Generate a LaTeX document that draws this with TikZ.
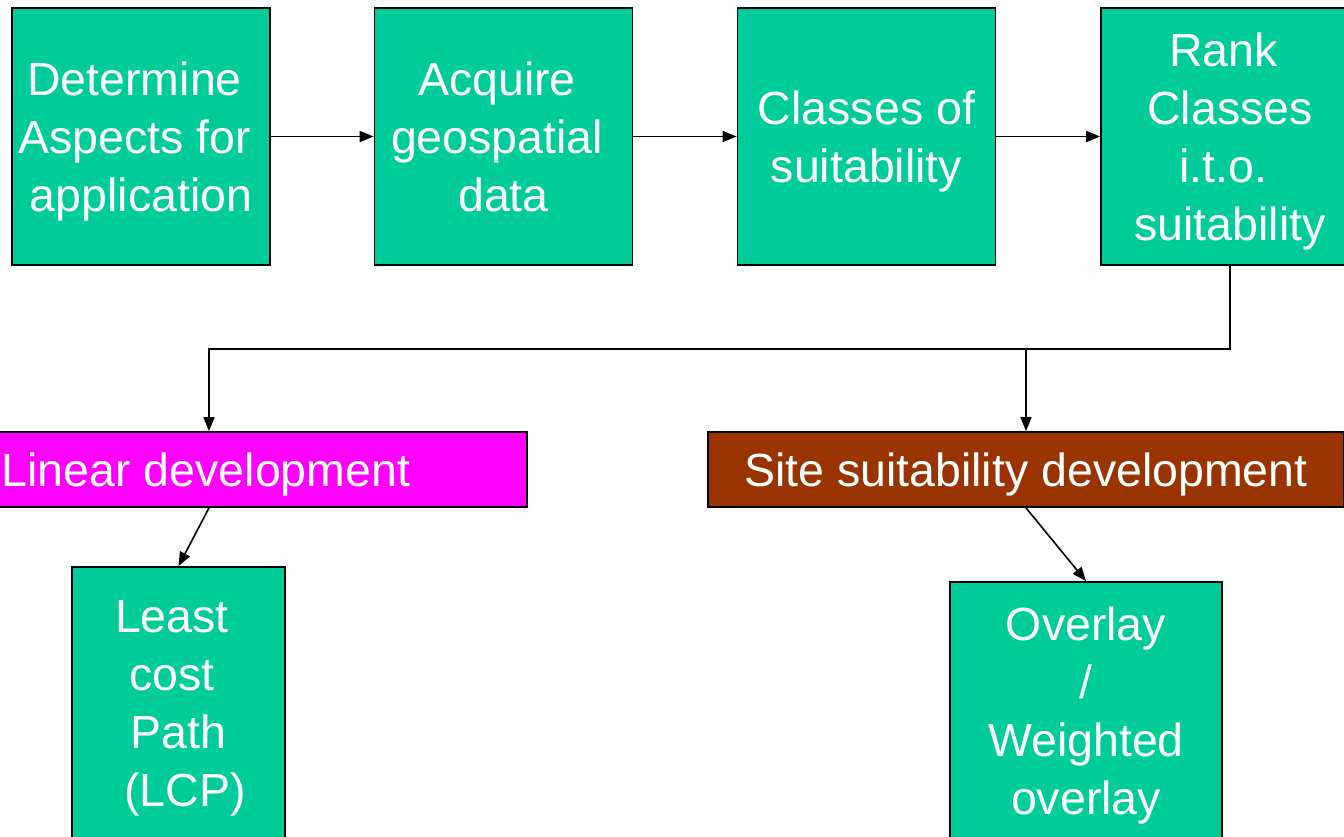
\documentclass[tikz,border=0pt]{standalone}
\usepackage{fontspec}
\setmainfont{Liberation Sans}
\usetikzlibrary{arrows.meta}
\definecolor{boxgreen}{RGB}{0,204,153}
\definecolor{boxmag}{RGB}{255,0,255}
\definecolor{boxbrown}{RGB}{153,51,0}
\newcommand\tsp{\hbox to 13pt{}}
\begin{document}
\begin{tikzpicture}[x=1pt,y=-1pt,
  box/.style={draw=black, line width=1.8pt, fill=boxgreen, text=white,
    font=\fontsize{46.5}{58}\selectfont, align=center, inner sep=0pt, text depth=0pt},
  arr/.style={line width=1.6pt, -{Triangle[length=14pt,width=11pt]}}]
\useasboundingbox (0,0) rectangle (1344,836);
\clip (0,0) rectangle (1344,836);
\node[box, minimum width=258pt, minimum height=257pt] (b1) at (141,136.5)
  {Determine\tsp\\Aspects for\tsp\\application};
\node[box, minimum width=258pt, minimum height=257pt] (b2) at (503.5,136.5)
  {Acquire\tsp\\geospatial\tsp\\data};
\node[box, minimum width=258pt, minimum height=257pt] (b3) at (866.5,136.5)
  {Classes of\\suitability};
\node[box, minimum width=258pt, minimum height=257pt] (b4) at (1230,136.5)
  {Rank\tsp\\Classes\\i.t.o.\tsp\\suitability};
\node[box, fill=boxmag, minimum width=636pt, minimum height=75pt] (lin) at (209,469.5)
  {Linear development\hbox to 6pt{}};
\node[box, fill=boxbrown, minimum width=636pt, minimum height=75pt] (site) at (1026,469.5)
  {Site suitability development};
\node[box, minimum width=213pt, minimum height=273pt] (lcp) at (178.5,703.5)
  {Least\tsp\\cost\tsp\\Path\\\tsp(LCP)};
\node[box, minimum width=272pt, minimum height=258pt] (ov) at (1086,711)
  {Overlay\\/\\Weighted\\overlay};
\draw[arr] (b1.east) -- (b2.west);
\draw[arr] (b2.east) -- (b3.west);
\draw[arr] (b3.east) -- (b4.west);
\draw[arr] (b4.south) -- ++(0,83) -| (lin.north);
\draw[arr] (b4.south) -- ++(0,83) -| (site.north);
\draw[arr] (lin.south) -- (lcp.north);
\draw[arr] (site.south) -- (ov.north);
\end{tikzpicture}
\end{document}
